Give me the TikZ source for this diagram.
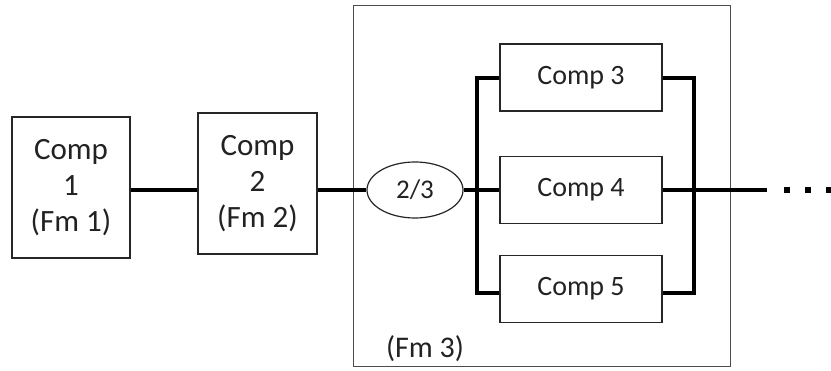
\documentclass[tikz,border=0pt]{standalone}
\usepackage{fontspec}
\setmainfont{Carlito}
\usetikzlibrary{shapes.geometric}
\definecolor{txt}{HTML}{222222}
\tikzset{
  compbox/.style={draw=black!85, line width=1.2pt, inner sep=0pt, text=txt, align=center},
  bigcomp/.style={compbox, minimum width=118pt, minimum height=141pt, font=\fontsize{31}{36}\selectfont},
  parcomp/.style={compbox, minimum width=162pt, minimum height=67pt, font=\fontsize{28}{32}\selectfont},
  vote/.style={ellipse, draw=black!85, line width=1.2pt, minimum width=96pt, minimum height=56pt, inner sep=0pt, text=txt, font=\fontsize{27}{30}\selectfont},
  groupbox/.style={draw=black!70, line width=1pt, inner sep=0pt},
  wire/.style={line width=3.3pt, black},
  dotmark/.style={fill=black, inner sep=0pt, minimum size=6pt}
}
\begin{document}
\begin{tikzpicture}[x=1pt,y=-1pt]
\useasboundingbox (0,0) rectangle (831,371);
\clip (0,0) rectangle (831,371);
\node[groupbox, minimum width=377pt, minimum height=361pt] (grp) at (541.5,186.5) {};
\node[text=txt, font=\fontsize{30}{34}\selectfont] (fmthree) at (425,349) {(Fm 3)};
\node[bigcomp] (c1) at (71,187.5) {Comp\\1\\(Fm 1)};
\node[bigcomp, minimum width=119pt] (c2) at (257.5,183.5) {Comp\\2\\(Fm 2)};
\node[vote] (v) at (415,190) {2/3};
\node[parcomp] (c3) at (581,77.5) {Comp 3};
\node[parcomp] (c4) at (581,190) {Comp 4};
\node[parcomp] (c5) at (581,289) {Comp 5};
\coordinate (out) at (767,190);
\coordinate (lt) at (477,78);
\coordinate (lbt) at (477,293);
\coordinate (rt) at (694,78);
\coordinate (rbt) at (694,293);
\draw[wire] (c1.east |- v) -- (c2.west |- v);
\draw[wire] (c2.east |- v) -- (v.west);
\draw[wire] (v.east) -- (c4.west);
\draw[wire] (c3.west |- lt) -- (lt) -- (lbt) -- (c5.west |- lbt);
\draw[wire] (c3.east |- rt) -- (rt) -- (rbt) -- (c5.east |- rbt);
\draw[wire] (c4.east) -- (out);
\node[dotmark] (d1) at (787,190) {};
\node[dotmark] (d2) at (808,190) {};
\node[dotmark] (d3) at (829,190) {};
\end{tikzpicture}
\end{document}
